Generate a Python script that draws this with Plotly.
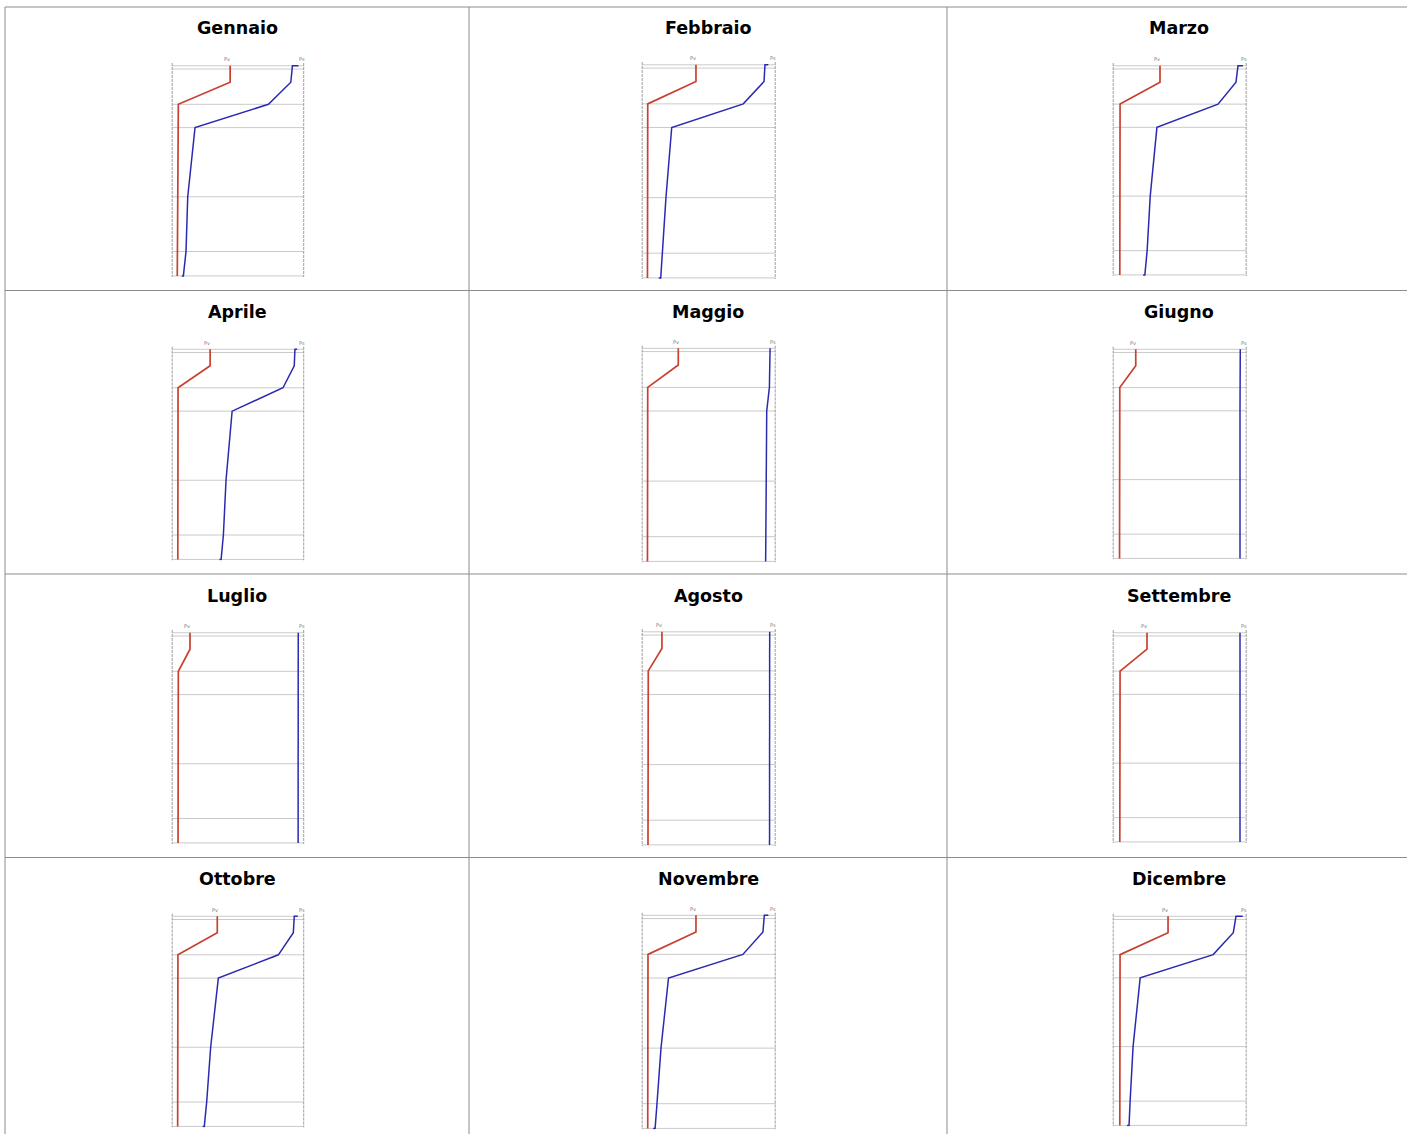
import plotly.graph_objects as go

W, H = 1407, 1134

MONTHS = ["Gennaio", "Febbraio", "Marzo",
          "Aprile", "Maggio", "Giugno",
          "Luglio", "Agosto", "Settembre",
          "Ottobre", "Novembre", "Dicembre"]

# Depth through the wall (0 = inner side, 100 = outer side)
PS_DEPTH = [1.3, 1.3, 9.0, 19.3, 30.2, 62.5, 88.1, 99.5, 99.5]
PV_DEPTH = [1.3, 9.0, 19.3, 99.5]
LAYER_LINES = [1.3, 2.8, 19.3, 30.2, 62.5, 88.1, 99.5]

# Saturation pressure Ps (% of panel scale) at each depth node
PS_GENNAIO = [95.7, 91.1, 89.9, 73.0, 17.6, 12.1, 10.8, 8.8, 7.6]
PS_FEBBRAIO = [94.5, 92.0, 91.3, 75.8, 22.4, 18.1, 15.4, 14.2, 12.7]
PS_MARZO = [97.2, 93.5, 92.0, 78.6, 33.0, 28.0, 25.7, 24.0, 22.7]
PS_APRILE = [94.7, 93.0, 92.5, 84.0, 45.6, 41.0, 39.0, 37.3, 36.0]
PS_MAGGIO = [95.8, 95.8, 95.6, 95.3, 93.3, 93.0, 92.7, 92.5, 92.5]
PS_GIUGNO = [95.2, 95.2, 95.1, 95.1, 95.0, 95.0, 95.0, 95.0, 95.0]
PS_LUGLIO = [95.5, 95.5, 95.5, 95.4, 95.4, 95.4, 95.4, 95.4, 95.4]
PS_AGOSTO = [95.5, 95.5, 95.5, 95.4, 95.4, 95.4, 95.4, 95.4, 95.4]
PS_SETTEMBRE = [95.0, 95.0, 95.0, 95.0, 95.0, 95.0, 95.0, 95.0, 95.0]
PS_OTTOBRE = [95.1, 92.5, 91.8, 80.5, 35.2, 29.4, 26.4, 24.6, 23.4]
PS_NOVEMBRE = [94.5, 91.5, 90.5, 75.5, 20.0, 14.4, 11.4, 10.0, 8.5]
PS_DICEMBRE = [97.0, 92.0, 90.0, 75.0, 20.5, 15.2, 13.0, 12.2, 10.7]

# Vapour pressure Pv (% of panel scale) at each depth node
PV_GENNAIO = [44.1, 44.1, 5.0, 4.2]
PV_FEBBRAIO = [40.5, 40.5, 4.5, 4.3]
PV_MARZO = [35.3, 35.3, 5.5, 5.3]
PV_APRILE = [29.0, 29.0, 4.8, 4.6]
PV_MAGGIO = [27.3, 27.3, 4.5, 4.3]
PV_GIUGNO = [17.2, 17.2, 5.3, 5.1]
PV_LUGLIO = [13.8, 13.8, 5.0, 4.8]
PV_AGOSTO = [15.1, 15.1, 4.9, 4.7]
PV_SETTEMBRE = [25.6, 25.6, 5.5, 5.3]
PV_OTTOBRE = [34.4, 34.4, 4.7, 4.5]
PV_NOVEMBRE = [40.5, 40.5, 4.7, 4.5]
PV_DICEMBRE = [41.3, 41.3, 5.5, 5.3]

PS_ALL = [PS_GENNAIO, PS_FEBBRAIO, PS_MARZO, PS_APRILE, PS_MAGGIO, PS_GIUGNO,
          PS_LUGLIO, PS_AGOSTO, PS_SETTEMBRE, PS_OTTOBRE, PS_NOVEMBRE, PS_DICEMBRE]
PV_ALL = [PV_GENNAIO, PV_FEBBRAIO, PV_MARZO, PV_APRILE, PV_MAGGIO, PV_GIUGNO,
          PV_LUGLIO, PV_AGOSTO, PV_SETTEMBRE, PV_OTTOBRE, PV_NOVEMBRE, PV_DICEMBRE]

# Page layout (pixels)
COL_EDGES = [5, 469, 947, 1407]
ROW_EDGES = [7, 290.5, 574, 857.5, 1141]
PLOT_X = [(171.7, 304.2), (641.7, 775.7), (1112.7, 1246.7)]
PLOT_TOP_OFFSET = 56      # from row top to plot top
PLOT_HEIGHT = [214, 217, 213]

RED = "#c8402f"
BLUE = "#2a2ab0"
GRID = "#cacaca"
AXIS = "#9e9e9e"
BORDER = "#8c8c8c"

fig = go.Figure()
shapes = []
annotations = []

for i, month in enumerate(MONTHS):
    r, c = divmod(i, 3)
    n = i + 1
    xa = "x" if n == 1 else f"x{n}"
    ya = "y" if n == 1 else f"y{n}"
    x0, x1 = PLOT_X[c]
    top = ROW_EDGES[r] + PLOT_TOP_OFFSET - (1 if c == 1 else 0)
    bot = top + PLOT_HEIGHT[c]

    ax_common = dict(showgrid=False, zeroline=False, showticklabels=False,
                     showline=False, ticks="", fixedrange=True)
    fig.update_layout(**{
        ("xaxis" if n == 1 else f"xaxis{n}"): dict(
            domain=[x0 / W, x1 / W], range=[0, 100], anchor=ya, **ax_common),
        ("yaxis" if n == 1 else f"yaxis{n}"): dict(
            domain=[1 - bot / H, 1 - top / H], range=[100, 0], anchor=xa, **ax_common),
    })

    # layer interfaces
    for d in LAYER_LINES:
        shapes.append(dict(type="line", xref=xa, yref=ya, x0=0, x1=100, y0=d, y1=d,
                           line=dict(color=GRID, width=1), layer="below"))
    # dashed side rulers
    for xv in (0, 100):
        shapes.append(dict(type="line", xref=xa, yref=ya, x0=xv, x1=xv, y0=0, y1=100,
                           line=dict(color=AXIS, width=2, dash="3px,1px"), layer="below"))

    fig.add_trace(go.Scatter(x=PV_ALL[i], y=PV_DEPTH, mode="lines",
                             line=dict(color=RED, width=1.7), xaxis=xa, yaxis=ya,
                             showlegend=False, hoverinfo="skip"))
    fig.add_trace(go.Scatter(x=PS_ALL[i], y=PS_DEPTH, mode="lines",
                             line=dict(color=BLUE, width=1.5), xaxis=xa, yaxis=ya,
                             showlegend=False, hoverinfo="skip"))

    annotations.append(dict(text="Pv", xref=xa, yref=ya, x=PV_ALL[i][0] - 2, y=0.5,
                            showarrow=False, yanchor="bottom", xanchor="center",
                            font=dict(size=5, color="#777777", family="DejaVu Sans")))
    annotations.append(dict(text="Ps", xref=xa, yref=ya, x=98, y=0.5,
                            showarrow=False, yanchor="bottom", xanchor="center",
                            font=dict(size=5, color="#777777", family="DejaVu Sans")))

    # cell title
    cx = (COL_EDGES[c] + COL_EDGES[c + 1]) / 2 + (2 if c == 2 else 0)
    annotations.append(dict(text=f"<b>{month}</b>", xref="paper", yref="paper",
                            x=cx / W, y=1 - (ROW_EDGES[r] + 21.5) / H,
                            showarrow=False, xanchor="center", yanchor="middle",
                            font=dict(size=17.5, color="#000000", family="DejaVu Sans")))

# table borders
for xv in COL_EDGES[:3]:
    shapes.append(dict(type="line", xref="paper", yref="paper",
                       x0=xv / W, x1=xv / W, y0=0, y1=1 - ROW_EDGES[0] / H,
                       line=dict(color=BORDER, width=1)))
for yv in ROW_EDGES[:4]:
    shapes.append(dict(type="line", xref="paper", yref="paper",
                       x0=COL_EDGES[0] / W, x1=1, y0=1 - yv / H, y1=1 - yv / H,
                       line=dict(color=BORDER, width=1)))

fig.update_layout(width=W, height=H, margin=dict(l=0, r=0, t=0, b=0),
                  paper_bgcolor="white", plot_bgcolor="white",
                  shapes=shapes, annotations=annotations, showlegend=False)

fig.write_html("out.html", config={"displayModeBar": False})
